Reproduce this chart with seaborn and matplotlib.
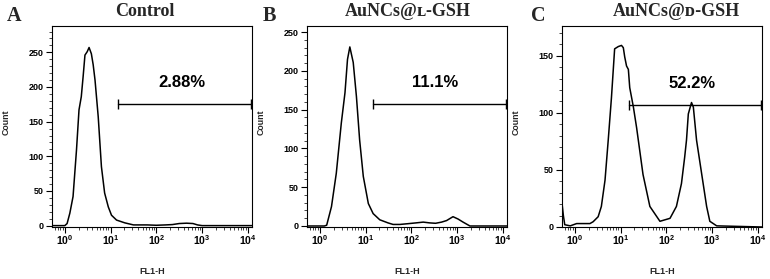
import numpy as np
import pandas as pd
import matplotlib
matplotlib.use("Agg")
import matplotlib.pyplot as plt
import seaborn as sns
from matplotlib.ticker import MultipleLocator, LogLocator, NullFormatter, FixedLocator, FixedFormatter

# ---------------- data ----------------
panel_letters = ["A", "B", "C"]
titles = ["Control", "AuNCs@\u029f-GSH", "AuNCs@\u1d05-GSH"]
gate_labels = ["2.88%", "11.1%", "52.2%"]

# FL1-H as log10 exponent, and event counts
a_fl1_exp = [-0.28, 0.0, 0.05, 0.11, 0.18, 0.255, 0.31, 0.36, 0.40, 0.44, 0.49, 0.53,
             0.58, 0.62, 0.66, 0.73, 0.80, 0.87, 0.95, 1.02, 1.13, 1.31, 1.5, 1.8,
             2.0, 2.2, 2.35, 2.5, 2.66, 2.8, 2.9, 3.0, 4.09]
a_count = [0, 0, 3, 18, 42, 109, 167, 186, 215, 246, 251, 257,
           248, 232, 210, 157, 85, 47, 27, 15, 8, 4, 1, 1,
           0.5, 1, 1.5, 3, 3.5, 3, 1, 0, 0]

b_fl1_exp = [-0.28, 0.1, 0.15, 0.255, 0.36, 0.47, 0.55, 0.605, 0.656, 0.73, 0.80, 0.87,
             0.95, 1.06, 1.165, 1.31, 1.49, 1.6, 1.75, 1.93, 2.1, 2.26, 2.4, 2.53,
             2.66, 2.77, 2.91, 3.02, 3.13, 3.28, 4.09]
b_count = [0, 0, 1, 25, 68, 133, 172, 215, 231, 211, 167, 111,
           64, 29, 16, 8, 4, 2, 2, 3, 4, 5, 4, 3.5,
           5, 7, 12, 9, 5, 0, 0]

c_fl1_exp = [-0.28, -0.25, -0.22, -0.1, 0.04, 0.33, 0.40, 0.51, 0.58, 0.66, 0.73, 0.80,
             0.87, 0.95, 1.02, 1.06, 1.09, 1.13, 1.17, 1.20, 1.28, 1.35, 1.49, 1.64,
             1.86, 2.08, 2.22, 2.33, 2.40, 2.44, 2.48, 2.55, 2.59, 2.66, 2.77, 2.88,
             2.95, 3.1, 4.09]
c_count = [21, 10, 2, 1, 3, 3, 4.6, 9, 18, 41, 76, 113,
           156, 158, 159, 157, 149, 141, 138, 122, 105, 87, 46, 18,
           5, 7.6, 18, 38, 61, 76, 99, 109, 105, 76, 47, 18,
           5, 1, 0]

series_exp = [a_fl1_exp, b_fl1_exp, c_fl1_exp]
series_count = [a_count, b_count, c_count]

y_limits = [(-2, 288), (-1.3, 258), (0, 176)]
y_major = [50, 50, 50]
gate_start_exp = [1.16, 1.165, 1.18]
gate_y = [175, 157, 106.5]
label_exp = [2.56, 2.51, 2.56]
label_y = [206, 185, 126]

x_ticks = [1, 10, 100, 1000, 10000]
x_tick_labels = [r"$10^{0}$", r"$10^{1}$", r"$10^{2}$", r"$10^{3}$", r"$10^{4}$"]
x_label = "FL1-H"
y_label = "Count"

# ---------------- style ----------------
sns.set_theme(style="ticks")
plt.rcParams["font.family"] = ["Liberation Sans", "DejaVu Sans"]
plt.rcParams["font.weight"] = "bold"
plt.rcParams["mathtext.fontset"] = "custom"
plt.rcParams["mathtext.rm"] = "Liberation Sans:bold"
plt.rcParams["mathtext.it"] = "Liberation Sans:bold"
plt.rcParams["mathtext.bf"] = "Liberation Sans:bold"
plt.rcParams["mathtext.default"] = "rm"

W, H = 770, 279
fig = plt.figure(figsize=(W / 100, H / 100), dpi=100)

ax_lefts = [52, 307, 562]
ax_top, ax_bottom, ax_w = 26, 227, 200
title_x = [145, 408, 676]
letter_x = [14.5, 269, 538]

serif = ["Liberation Serif", "DejaVu Serif", "DejaVu Sans"]

for i in range(3):
    ax = fig.add_axes([ax_lefts[i] / W, (H - ax_bottom) / H, ax_w / W, (ax_bottom - ax_top) / H])
    df = pd.DataFrame({"FL1-H": np.power(10.0, series_exp[i]), "Count": series_count[i]})
    sns.lineplot(data=df, x="FL1-H", y="Count", ax=ax, color="black", linewidth=1.1,
                 sort=False, estimator=None)
    ax.set_xscale("log")
    ax.set_xlim(10 ** -0.28, 10 ** 4.09)
    ax.set_ylim(*y_limits[i])

    # gate bar
    gx = [10 ** gate_start_exp[i], 10 ** 4.075]
    ax.plot(gx, [gate_y[i], gate_y[i]], color="black", lw=1.0, marker="|",
            markersize=7, markeredgewidth=1.0)
    ax.text(10 ** label_exp[i], label_y[i], gate_labels[i], ha="center", va="center",
            fontsize=12, fontweight="bold", color="black")

    ax.xaxis.set_major_locator(FixedLocator(x_ticks))
    ax.xaxis.set_major_formatter(FixedFormatter(x_tick_labels))
    ax.xaxis.set_minor_locator(LogLocator(base=10, subs=np.arange(2, 10), numticks=20))
    ax.xaxis.set_minor_formatter(NullFormatter())
    ax.yaxis.set_major_locator(MultipleLocator(y_major[i]))
    ax.yaxis.set_minor_locator(MultipleLocator(10))

    ax.tick_params(axis="both", which="major", direction="out", length=4, width=0.8,
                   pad=2, colors="black")
    ax.tick_params(axis="y", which="major", labelsize=6.5)
    ax.tick_params(axis="x", which="major", labelsize=7.5, pad=0.5)
    ax.tick_params(axis="both", which="minor", direction="out", length=2, width=0.6)
    for lab in ax.get_yticklabels():
        lab.set_fontweight("bold")
    for sp in ax.spines.values():
        sp.set_visible(True)
        sp.set_linewidth(0.8)
        sp.set_color("black")

    ax.set_xlabel(x_label, fontsize=6.5, fontweight="bold")
    ax.set_ylabel(y_label, fontsize=6.3, fontweight="bold")
    ax.xaxis.set_label_coords(0.5, -0.2)
    ax.yaxis.set_label_coords(-0.205, 0.52)

    fig.text(title_x[i] / W, 1 - 12 / H, titles[i], ha="center", va="center",
             fontsize=13, fontweight="bold", family=serif)
    fig.text(letter_x[i] / W, 1 - 16 / H, panel_letters[i], ha="center", va="center",
             fontsize=14.5, fontweight="bold", family=serif)

fig.savefig("out.png", dpi=100, facecolor="white")
